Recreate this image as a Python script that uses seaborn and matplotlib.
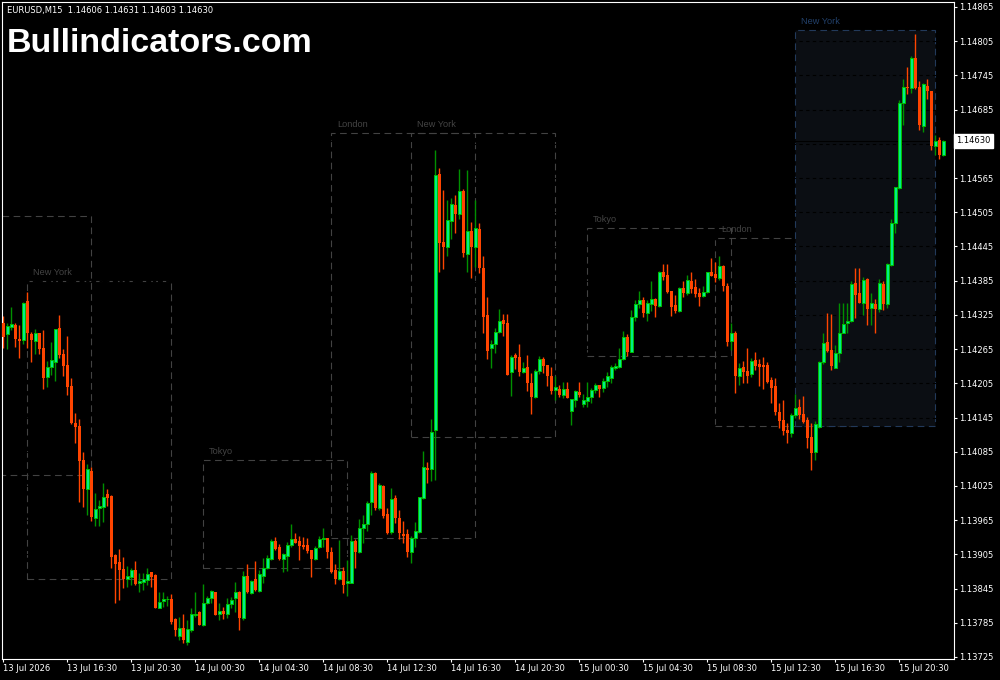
import numpy as np
import pandas as pd
import seaborn as sns
import matplotlib.pyplot as plt
from matplotlib.patches import Rectangle

# EURUSD M15 - OHLC (bar 0 = 13 Jul 12:30)
opens = [
    1.14311, 1.14292, 1.14304, 1.14307, 1.14283, 1.14281, 1.14349, 1.14292, 1.14279, 1.14293,
    1.14267, 1.14216, 1.14234, 1.14242, 1.14302, 1.14256, 1.14237, 1.14200, 1.14135, 1.14130,
    1.14070, 1.14020, 1.14051, 1.13969, 1.13986, 1.13988, 1.14011, 1.14007, 1.13904, 1.13892,
    1.13879, 1.13862, 1.13865, 1.13878, 1.13855, 1.13857, 1.13860, 1.13874, 1.13869, 1.13811,
    1.13823, 1.13827, 1.13827, 1.13792, 1.13762, 1.13776, 1.13751, 1.13772, 1.13799, 1.13804,
    1.13781, 1.13820, 1.13828, 1.13839, 1.13800, 1.13806, 1.13800, 1.13818, 1.13828, 1.13839,
    1.13793, 1.13867, 1.13837, 1.13862, 1.13841, 1.13867, 1.13881, 1.13897, 1.13928, 1.13918,
    1.13897, 1.13902, 1.13921, 1.13932, 1.13928, 1.13921, 1.13921, 1.13913, 1.13897, 1.13918,
    1.13932, 1.13934, 1.13909, 1.13878, 1.13862, 1.13876, 1.13855, 1.13855, 1.13928, 1.13909,
    1.13951, 1.13958, 1.13997, 1.14048, 1.13986, 1.14025, 1.13976, 1.13944, 1.14004, 1.13969,
    1.13941, 1.13941, 1.13909, 1.13934, 1.13944, 1.14004, 1.14056, 1.14055, 1.14123, 1.14572,
    1.14453, 1.14444, 1.14490, 1.14518, 1.14502, 1.14542, 1.14432, 1.14472, 1.14444, 1.14476,
    1.14407, 1.14325, 1.14267, 1.14274, 1.14295, 1.14316, 1.14311, 1.14225, 1.14255, 1.14251,
    1.14225, 1.14234, 1.14206, 1.14181, 1.14227, 1.14248, 1.14237, 1.14218, 1.14193, 1.14195,
    1.14185, 1.14195, 1.14156, 1.14176, 1.14190, 1.14169, 1.14174, 1.14181, 1.14193, 1.14202,
    1.14197, 1.14209, 1.14214, 1.14232, 1.14234, 1.14248, 1.14286, 1.14260, 1.14321, 1.14344,
    1.14351, 1.14328, 1.14344, 1.14353, 1.14341, 1.14400, 1.14395, 1.14367, 1.14342, 1.14332,
    1.14372, 1.14363, 1.14384, 1.14374, 1.14363, 1.14358, 1.14365, 1.14400, 1.14397, 1.14390,
    1.14411, 1.14376, 1.14279, 1.14293, 1.14218, 1.14234, 1.14227, 1.14221, 1.14246, 1.14239,
    1.14237, 1.14237, 1.14211, 1.14200, 1.14155, 1.14141, 1.14123, 1.14118, 1.14149, 1.14163,
    1.14151, 1.14141, 1.14111, 1.14085, 1.14128, 1.14242, 1.14277, 1.14264, 1.14232, 1.14258,
    1.14293, 1.14311, 1.14314, 1.14381, 1.14363, 1.14346, 1.14388, 1.14337, 1.14344, 1.14335,
    1.14379, 1.14344, 1.14413, 1.14486, 1.14548, 1.14697, 1.14725, 1.14723, 1.14776, 1.14725,
    1.14656, 1.14726, 1.14718, 1.14621, 1.14632, 1.14606,
]
highs = [
    1.14323, 1.14311, 1.14339, 1.14311, 1.14307, 1.14348, 1.14365, 1.14295, 1.14300, 1.14293,
    1.14299, 1.14244, 1.14277, 1.14300, 1.14325, 1.14265, 1.14288, 1.14214, 1.14153, 1.14142,
    1.14085, 1.14063, 1.14058, 1.14013, 1.14000, 1.14030, 1.14020, 1.14009, 1.13906, 1.13914,
    1.13900, 1.13885, 1.13881, 1.13893, 1.13872, 1.13872, 1.13881, 1.13874, 1.13871, 1.13839,
    1.13839, 1.13832, 1.13835, 1.13793, 1.13795, 1.13800, 1.13790, 1.13811, 1.13839, 1.13806,
    1.13853, 1.13832, 1.13843, 1.13839, 1.13820, 1.13813, 1.13828, 1.13830, 1.13857, 1.13841,
    1.13876, 1.13888, 1.13860, 1.13893, 1.13878, 1.13898, 1.13904, 1.13932, 1.13935, 1.13923,
    1.13907, 1.13927, 1.13958, 1.13942, 1.13937, 1.13935, 1.13934, 1.13913, 1.13920, 1.13937,
    1.13951, 1.13934, 1.13918, 1.13888, 1.13930, 1.13883, 1.13895, 1.13939, 1.13932, 1.13967,
    1.13974, 1.13999, 1.14051, 1.14049, 1.14030, 1.14027, 1.13986, 1.14021, 1.14009, 1.13983,
    1.13964, 1.13950, 1.13937, 1.13962, 1.14006, 1.14086, 1.14067, 1.14142, 1.14614, 1.14583,
    1.14544, 1.14527, 1.14530, 1.14535, 1.14581, 1.14546, 1.14579, 1.14488, 1.14527, 1.14486,
    1.14428, 1.14356, 1.14281, 1.14302, 1.14335, 1.14327, 1.14327, 1.14255, 1.14258, 1.14274,
    1.14242, 1.14255, 1.14223, 1.14230, 1.14253, 1.14251, 1.14237, 1.14234, 1.14218, 1.14202,
    1.14207, 1.14207, 1.14178, 1.14193, 1.14207, 1.14186, 1.14207, 1.14197, 1.14206, 1.14202,
    1.14214, 1.14225, 1.14237, 1.14241, 1.14267, 1.14297, 1.14292, 1.14334, 1.14351, 1.14367,
    1.14356, 1.14351, 1.14384, 1.14355, 1.14402, 1.14414, 1.14414, 1.14367, 1.14360, 1.14374,
    1.14384, 1.14395, 1.14400, 1.14388, 1.14372, 1.14376, 1.14400, 1.14425, 1.14418, 1.14428,
    1.14413, 1.14381, 1.14311, 1.14297, 1.14241, 1.14244, 1.14267, 1.14249, 1.14260, 1.14248,
    1.14251, 1.14242, 1.14216, 1.14214, 1.14171, 1.14176, 1.14135, 1.14153, 1.14186, 1.14178,
    1.14183, 1.14146, 1.14135, 1.14139, 1.14244, 1.14293, 1.14328, 1.14327, 1.14272, 1.14346,
    1.14346, 1.14346, 1.14384, 1.14407, 1.14407, 1.14391, 1.14390, 1.14363, 1.14353, 1.14388,
    1.14384, 1.14416, 1.14493, 1.14549, 1.14702, 1.14739, 1.14760, 1.14779, 1.14818, 1.14735,
    1.14732, 1.14739, 1.14718, 1.14640, 1.14637, 1.14631,
]
lows = [
    1.14267, 1.14265, 1.14299, 1.14269, 1.14249, 1.14274, 1.14267, 1.14242, 1.14256, 1.14256,
    1.14195, 1.14199, 1.14220, 1.14209, 1.14249, 1.14218, 1.14185, 1.14134, 1.14100, 1.13997,
    1.13988, 1.13974, 1.13964, 1.13955, 1.13955, 1.13962, 1.13990, 1.13881, 1.13820, 1.13825,
    1.13846, 1.13848, 1.13851, 1.13851, 1.13839, 1.13843, 1.13851, 1.13848, 1.13811, 1.13811,
    1.13813, 1.13814, 1.13783, 1.13762, 1.13755, 1.13750, 1.13746, 1.13769, 1.13795, 1.13781,
    1.13779, 1.13818, 1.13820, 1.13799, 1.13790, 1.13792, 1.13793, 1.13811, 1.13804, 1.13772,
    1.13790, 1.13837, 1.13835, 1.13841, 1.13839, 1.13855, 1.13879, 1.13895, 1.13913, 1.13895,
    1.13874, 1.13876, 1.13918, 1.13925, 1.13895, 1.13914, 1.13907, 1.13865, 1.13895, 1.13916,
    1.13918, 1.13898, 1.13872, 1.13853, 1.13860, 1.13837, 1.13832, 1.13855, 1.13881, 1.13907,
    1.13925, 1.13946, 1.13974, 1.13983, 1.13983, 1.13969, 1.13941, 1.13941, 1.13960, 1.13932,
    1.13925, 1.13900, 1.13890, 1.13918, 1.13943, 1.14002, 1.14030, 1.14034, 1.14035, 1.14400,
    1.14406, 1.14428, 1.14458, 1.14469, 1.14493, 1.14427, 1.14400, 1.14390, 1.14409, 1.14399,
    1.14293, 1.14248, 1.14232, 1.14258, 1.14293, 1.14288, 1.14220, 1.14183, 1.14230, 1.14218,
    1.14223, 1.14192, 1.14151, 1.14179, 1.14221, 1.14223, 1.14200, 1.14186, 1.14176, 1.14181,
    1.14179, 1.14179, 1.14132, 1.14163, 1.14181, 1.14163, 1.14163, 1.14171, 1.14188, 1.14181,
    1.14190, 1.14199, 1.14206, 1.14228, 1.14232, 1.14246, 1.14253, 1.14260, 1.14314, 1.14337,
    1.14321, 1.14314, 1.14332, 1.14321, 1.14339, 1.14386, 1.14363, 1.14323, 1.14328, 1.14330,
    1.14356, 1.14360, 1.14363, 1.14356, 1.14341, 1.14356, 1.14363, 1.14393, 1.14383, 1.14386,
    1.14367, 1.14270, 1.14264, 1.14188, 1.14202, 1.14206, 1.14206, 1.14216, 1.14228, 1.14200,
    1.14195, 1.14206, 1.14171, 1.14149, 1.14127, 1.14114, 1.14100, 1.14111, 1.14144, 1.14142,
    1.14135, 1.14092, 1.14053, 1.14071, 1.14127, 1.14239, 1.14260, 1.14228, 1.14232, 1.14242,
    1.14293, 1.14293, 1.14313, 1.14320, 1.14346, 1.14325, 1.14307, 1.14307, 1.14293, 1.14330,
    1.14334, 1.14337, 1.14411, 1.14469, 1.14546, 1.14658, 1.14712, 1.14714, 1.14721, 1.14649,
    1.14646, 1.14704, 1.14614, 1.14605, 1.14599, 1.14603,
]
closes = [
    1.14286, 1.14306, 1.14309, 1.14283, 1.14279, 1.14346, 1.14293, 1.14281, 1.14293, 1.14265,
    1.14214, 1.14234, 1.14246, 1.14300, 1.14255, 1.14235, 1.14199, 1.14135, 1.14128, 1.14069,
    1.14020, 1.14055, 1.13970, 1.13985, 1.13990, 1.14006, 1.14004, 1.13900, 1.13888, 1.13878,
    1.13862, 1.13867, 1.13878, 1.13853, 1.13858, 1.13862, 1.13871, 1.13865, 1.13811, 1.13821,
    1.13827, 1.13827, 1.13786, 1.13772, 1.13776, 1.13755, 1.13774, 1.13800, 1.13800, 1.13781,
    1.13820, 1.13828, 1.13841, 1.13799, 1.13806, 1.13800, 1.13818, 1.13825, 1.13839, 1.13793,
    1.13867, 1.13839, 1.13858, 1.13843, 1.13871, 1.13881, 1.13898, 1.13928, 1.13914, 1.13897,
    1.13906, 1.13921, 1.13932, 1.13925, 1.13920, 1.13918, 1.13911, 1.13897, 1.13916, 1.13932,
    1.13934, 1.13909, 1.13874, 1.13862, 1.13876, 1.13851, 1.13858, 1.13928, 1.13909, 1.13951,
    1.13958, 1.13995, 1.14048, 1.13986, 1.14027, 1.13972, 1.13943, 1.14002, 1.13969, 1.13943,
    1.13937, 1.13909, 1.13934, 1.13946, 1.14006, 1.14058, 1.14053, 1.14120, 1.14570, 1.14451,
    1.14444, 1.14491, 1.14520, 1.14502, 1.14542, 1.14434, 1.14472, 1.14444, 1.14477, 1.14407,
    1.14321, 1.14262, 1.14274, 1.14295, 1.14314, 1.14309, 1.14220, 1.14251, 1.14249, 1.14225,
    1.14232, 1.14206, 1.14181, 1.14227, 1.14248, 1.14235, 1.14218, 1.14192, 1.14199, 1.14185,
    1.14195, 1.14179, 1.14178, 1.14192, 1.14185, 1.14176, 1.14181, 1.14193, 1.14202, 1.14195,
    1.14209, 1.14218, 1.14234, 1.14235, 1.14248, 1.14286, 1.14260, 1.14321, 1.14344, 1.14351,
    1.14328, 1.14346, 1.14353, 1.14341, 1.14400, 1.14391, 1.14365, 1.14339, 1.14332, 1.14372,
    1.14363, 1.14386, 1.14370, 1.14362, 1.14356, 1.14365, 1.14400, 1.14393, 1.14390, 1.14411,
    1.14376, 1.14277, 1.14293, 1.14218, 1.14232, 1.14225, 1.14218, 1.14244, 1.14235, 1.14234,
    1.14234, 1.14207, 1.14197, 1.14155, 1.14139, 1.14121, 1.14118, 1.14149, 1.14162, 1.14149,
    1.14137, 1.14109, 1.14083, 1.14134, 1.14242, 1.14276, 1.14262, 1.14235, 1.14258, 1.14293,
    1.14309, 1.14314, 1.14379, 1.14360, 1.14346, 1.14386, 1.14335, 1.14346, 1.14335, 1.14381,
    1.14344, 1.14414, 1.14486, 1.14549, 1.14697, 1.14725, 1.14723, 1.14776, 1.14723, 1.14658,
    1.14730, 1.14718, 1.14621, 1.14630, 1.14605, 1.14630,
]

# x-axis labels every 16 bars (4 hours)
time_labels = ['13 Jul 2026', '13 Jul 16:30', '13 Jul 20:30', '14 Jul 00:30', '14 Jul 04:30',
               '14 Jul 08:30', '14 Jul 12:30', '14 Jul 16:30', '14 Jul 20:30', '15 Jul 00:30',
               '15 Jul 04:30', '15 Jul 08:30', '15 Jul 12:30', '15 Jul 16:30', '15 Jul 20:30']
price_ticks = [1.13725, 1.13785, 1.13845, 1.13905, 1.13965, 1.14025, 1.14085, 1.14145, 1.14205,
               1.14265, 1.14325, 1.14385, 1.14445, 1.14505, 1.14565, 1.14625, 1.14685, 1.14745,
               1.14805, 1.14865]

# session boxes (start/end bar, top/bottom price)
session_names = ['London', 'New York', 'Tokyo', 'London', 'New York', 'Tokyo', 'London', 'New York']
session_start = [-14, 6, 50, 82, 102, 146, 178, 198]
session_end = [22, 42, 86, 118, 138, 182, 214, 233]
session_top = [1.14498, 1.14384, 1.14071, 1.14644, 1.14644, 1.14477, 1.14460, 1.14825]
session_bottom = [1.14044, 1.13862, 1.13881, 1.13934, 1.14111, 1.14253, 1.14130, 1.14130]

df = pd.DataFrame({'open': opens, 'high': highs, 'low': lows, 'close': closes})
df['bar'] = np.arange(len(df))
up = df['close'] >= df['open']

sns.set_theme(style='dark', rc={'axes.facecolor': 'black', 'figure.facecolor': 'black',
                                'axes.edgecolor': 'white', 'axes.grid': False})
plt.rcParams['font.family'] = ['DejaVu Sans']

fig = plt.figure(figsize=(10, 6.8), dpi=100)
ax = fig.add_axes([0.002, 0.0309, 0.952, 0.9662])

# sessions
for i, name in enumerate(session_names):
    current = i == len(session_names) - 1
    edge = '#22395a' if current else '#424242'
    rect = Rectangle((session_start[i], session_bottom[i]),
                     session_end[i] - session_start[i], session_top[i] - session_bottom[i],
                     facecolor='#0b0e13' if current else 'none', edgecolor=edge,
                     lw=0.8, ls=(0, (6, 4)), zorder=0.5)
    ax.add_patch(rect)
    ax.annotate(name, xy=(session_start[i], session_top[i]), xytext=(4.3, 3),
                textcoords='offset points', fontsize=6.6, family='Liberation Sans',
                color='#22406a' if current else '#444444', va='bottom', ha='left',
                annotation_clip=True)

# grid (only visible on the shaded box) + bid line
ax.hlines(price_ticks, -1, len(df) + 5, colors='black', lw=0.8, linestyles=(0, (3, 3)), zorder=0.8)
ax.axhline(closes[-1], color='black', lw=0.8, zorder=0.9)

# candles
wick_col = np.where(up, '#009000', '#ff4500')
ax.vlines(df['bar'], df['low'], df['high'], colors=wick_col, lw=1, zorder=2)
ax.bar(df['bar'][up], (df['close'] - df['open'])[up], bottom=df['open'][up], width=0.72,
       color='#00ee88', edgecolor='#00c000', lw=0.7, zorder=3)
ax.bar(df['bar'][~up], (df['open'] - df['close'])[~up], bottom=df['close'][~up], width=0.75,
       color='#ff4500', lw=0, zorder=3)

ax.set_xlim(-0.325, 237.675)
ax.set_ylim(1.137215, 1.148738)

# the price tag hides the tick label it sits on
ax.yaxis.tick_right()
ax.set_yticks(price_ticks)
ax.set_yticklabels(['' if abs(p - closes[-1]) < 0.0002 else f'{p:.5f}' for p in price_ticks])
ax.set_xticks(np.arange(len(time_labels)) * 16)
ax.set_xticklabels(time_labels)
for lbl in ax.get_xticklabels():
    lbl.set_ha('left')
ax.tick_params(axis='both', direction='out', length=2.2, width=0.8, color='white',
               labelcolor='white', labelsize=6, pad=1.5)
ax.tick_params(axis='y', left=False, right=True)
ax.tick_params(axis='x', bottom=True)
for s in ax.spines.values():
    s.set_color('white')
    s.set_linewidth(0.8)

# current price tag
ax.annotate(f'{closes[-1]:.5f}', xy=(1, closes[-1]), xycoords=('axes fraction', 'data'),
            xytext=(1.5, 0), textcoords='offset points', va='center', ha='left', fontsize=6,
            color='black', zorder=10, annotation_clip=False,
            bbox=dict(boxstyle='square,pad=0.25', fc='white', ec='white'))

fig.text(0.007, 0.985, f'EURUSD,M15  {opens[-1]:.5f} {highs[-1]:.5f} {lows[-1]:.5f} {closes[-1]:.5f}',
         color='white', fontsize=6, va='center', ha='left')
fig.text(0.007, 0.9235, 'Bullindicators.com', color='white', fontsize=24.5, fontweight='bold',
         family='Liberation Sans', va='baseline', ha='left')

fig.savefig('out.png', dpi=100, facecolor='black')
